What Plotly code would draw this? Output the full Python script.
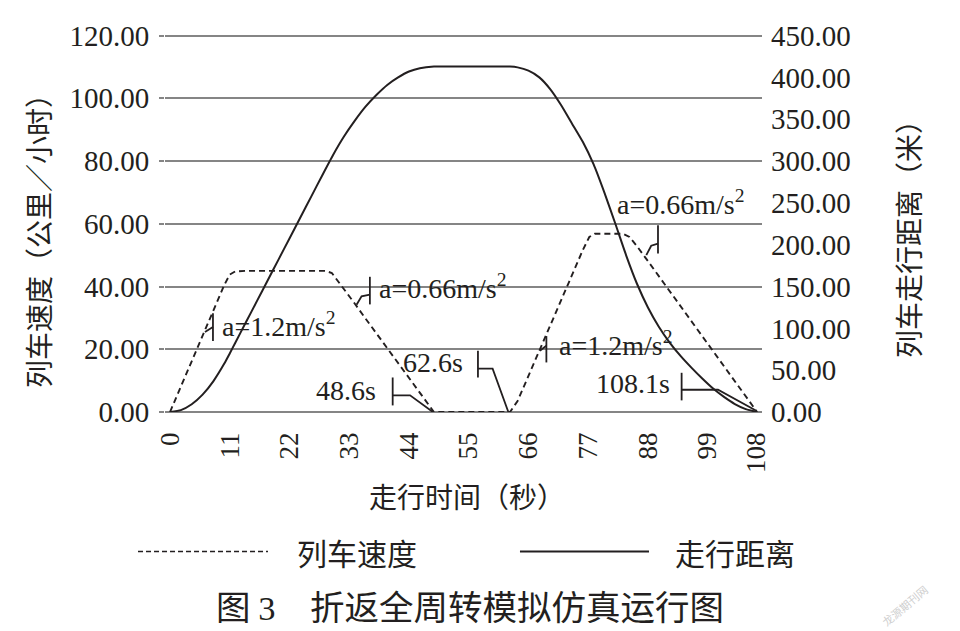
import plotly.graph_objects as go

# ---------------- data ----------------
speed_time = [0, 2, 4, 6, 8, 10, 11, 12, 14, 18, 22, 26, 28.6, 29.8, 32, 34, 36, 38, 40, 42, 44, 46, 48.6,
              52, 56, 60, 62.6, 64, 66, 68, 70, 72, 74, 76, 77.2, 78.2, 80, 83.4, 84.6, 86, 88, 90, 92, 94,
              96, 98, 100, 102, 104, 106, 108.1]
speed_kmh = [0, 8.1, 16.2, 24.3, 32.4, 40.5, 43.8, 44.8, 45, 45, 45, 45, 45, 44.3, 39.3, 34.6, 29.8, 25.1,
             20.3, 15.6, 10.8, 6.1, 0,
             0, 0, 0, 0, 3.5, 11.6, 19.6, 27.6, 35.6, 43.6, 51.6, 55.8, 56.8, 56.8, 56.8, 55.8, 52.8, 48.1,
             43.3, 38.5, 33.8, 29.0, 24.3, 19.5, 14.8, 10.0, 5.2, 0]

dist_time = [0, 2, 4, 6, 8, 10, 11, 12, 14, 16, 18, 20, 22, 24, 26, 28, 30, 32, 34, 36, 38, 40, 42, 44, 46,
             48.6, 52, 56, 60, 62.6, 64, 66, 68, 70, 72, 74, 76, 78, 80, 82, 84, 86, 88, 90, 92, 94, 96, 98,
             100, 102, 104, 106, 108.1]
dist_m = [0, 2.3, 9.3, 20.8, 37, 57.9, 70, 82.5, 107.5, 132.5, 157.5, 182.5, 207.5, 232.5, 257.5, 282.5,
          307, 329, 348, 365, 379, 391, 400, 407, 411, 413, 413, 413, 413, 413, 412, 408, 400, 386, 367, 345,
          323, 296, 262, 225, 187, 153, 125, 102, 83, 67, 53, 40, 28, 18, 9.5, 3.5, 0]

x_tick_vals = [0, 11, 22, 33, 44, 55, 66, 77, 88, 99, 108]
x_tick_text = ["0", "11", "22", "33", "44", "55", "66", "77", "88", "99", "108"]

label_texts = ["a=1.2m/s<sup>2</sup>", "a=0.66m/s<sup>2</sup>", "48.6s", "62.6s",
               "a=1.2m/s<sup>2</sup>", "a=0.66m/s<sup>2</sup>", "108.1s"]

legend_names = ["列车速度", "走行距离"]
x_title = "走行时间（秒）"
y_title = "列车速度（公里／小时）"
y2_title = "列车走行距离（米）"
caption = "图 <span style='font-family:Liberation Serif'>3</span>　折返全周转模拟仿真运行图"
watermark = "龙源期刊网"

# ---------------- styling ----------------
INK = "#231f20"
GRID = "#858585"
SERIF = "Liberation Serif, Times New Roman, serif"
CJK = "Noto Sans CJK SC, sans-serif"

fig = go.Figure()
fig.add_trace(go.Scatter(x=speed_time, y=speed_kmh, mode="lines", name=legend_names[0],
                         line=dict(color=INK, width=1.9, dash="6px,4px"), yaxis="y", showlegend=False))
fig.add_trace(go.Scatter(x=dist_time, y=dist_m, mode="lines", name=legend_names[1],
                         line=dict(color=INK, width=2, shape="spline", smoothing=0.5),
                         yaxis="y2", showlegend=False))

# label annotations (positions in data units: seconds / km/h)
label_pos = [(9.2, 28.0, "left"), (38.1, 40.0, "left"), (38.3, 6.9, "right"), (54.3, 15.7, "right"),
             (71.2, 21.7, "left"), (81.9, 66.9, "left"), (92.4, 9.1, "right")]
annotations = []
for txt, (ax, ay, anc) in zip(label_texts, label_pos):
    annotations.append(dict(x=ax, y=ay, xref="x", yref="y", text=txt, showarrow=False,
                            xanchor=anc, yanchor="middle", font=dict(family=SERIF, size=28, color=INK)))

# leader lines and brackets for the labels
leaders = [
    [(7.91, 22.6), (7.91, 31.5)], [(6.44, 25.5), (7.91, 27.1)],
    [(36.8, 34.3), (36.8, 43.1)], [(34.35, 34.2), (35.27, 36.85), (36.8, 37.4)],
    [(41.0, 2.1), (41.0, 11.0)], [(41.0, 5.3), (44.2, 5.3), (48.4, 0.0)],
    [(56.7, 11.0), (56.7, 19.5)], [(56.7, 13.8), (59.4, 13.8), (62.3, 0.0)],
    [(69.3, 15.8), (69.3, 24.2)], [(68.1, 19.5), (69.3, 21.1)],
    [(89.85, 50.5), (89.85, 59.5)], [(87.7, 50.0), (88.6, 53.0), (89.85, 53.7)],
    [(94.2, 3.7), (94.2, 12.5)], [(94.2, 7.1), (100.9, 7.1), (107.95, 0.4)],
]
shapes = []
for pts in leaders:
    path = "M " + " L ".join(f"{px},{py}" for px, py in pts)
    shapes.append(dict(type="path", path=path, xref="x", yref="y",
                       line=dict(color=INK, width=1.8)))

# manual legend
LEG_Y = -0.3691
shapes.append(dict(type="line", xref="paper", yref="paper", x0=-0.0452, x1=0.1725, y0=LEG_Y, y1=LEG_Y,
                   line=dict(color=INK, width=1.5, dash="5px,3px")))
shapes.append(dict(type="line", xref="paper", yref="paper", x0=0.5946, x1=0.8107, y0=LEG_Y, y1=LEG_Y,
                   line=dict(color=INK, width=2)))
annotations.append(dict(x=0.2178, y=LEG_Y, xref="paper", yref="paper", text=legend_names[0],
                        showarrow=False, xanchor="left", yanchor="middle", font=dict(family=CJK, size=30, color=INK)))
annotations.append(dict(x=0.8509, y=LEG_Y, xref="paper", yref="paper", text=legend_names[1],
                        showarrow=False, xanchor="left", yanchor="middle", font=dict(family=CJK, size=30, color=INK)))

# axis titles, caption, watermark
annotations.append(dict(x=0.5059, y=-0.2225, xref="paper", yref="paper", text=x_title, showarrow=False,
                        xanchor="center", yanchor="middle", font=dict(family=CJK, size=28, color=INK)))
annotations.append(dict(x=-0.2127, y=0.4712, xref="paper", yref="paper", text=y_title, showarrow=False,
                        textangle=-90, xanchor="center", yanchor="middle", font=dict(family=CJK, size=28, color=INK)))
annotations.append(dict(x=1.2446, y=0.4764, xref="paper", yref="paper", text=y2_title, showarrow=False,
                        textangle=-90, xanchor="center", yanchor="middle", font=dict(family=CJK, size=28, color=INK)))
annotations.append(dict(x=0.5109, y=-0.5105, xref="paper", yref="paper", text=caption, showarrow=False,
                        xanchor="center", yanchor="middle", font=dict(family=CJK, size=34.5, color=INK)))
annotations.append(dict(x=1.2395, y=-0.5105, xref="paper", yref="paper", text=watermark, showarrow=False,
                        textangle=-40, xanchor="center", yanchor="middle", font=dict(family=CJK, size=11, color="#cfcfcf")))

# the page body adds an 8px offset, so the figure is laid out 8px smaller
fig.update_layout(
    width=952, height=623,
    margin=dict(l=157, r=198, t=22, b=219),
    paper_bgcolor="white", plot_bgcolor="white",
    showlegend=False,
    xaxis=dict(range=[-0.92, 109.0], tickvals=x_tick_vals, ticktext=x_tick_text, tickangle=-90,
               showgrid=False, zeroline=False, showline=False, ticks="",
               ticklabelstandoff=14, tickfont=dict(family=SERIF, size=27, color=INK)),
    yaxis=dict(range=[0, 120.5], tickvals=[0, 20, 40, 60, 80, 100, 120], tickformat=".2f",
               showgrid=True, gridcolor=GRID, gridwidth=1.8,
               zeroline=True, zerolinecolor=GRID, zerolinewidth=1.8, showline=False,
               ticks="outside", ticklen=5, tickcolor=GRID, tickwidth=1.5, ticklabelstandoff=4,
               tickfont=dict(family=SERIF, size=29, color=INK)),
    yaxis2=dict(range=[0, 451.875], tickvals=[0, 50, 100, 150, 200, 250, 300, 350, 400, 450],
                tickformat=".2f", overlaying="y", side="right",
                showgrid=False, zeroline=False, showline=False, ticks="", ticklabelstandoff=8,
                tickfont=dict(family=SERIF, size=29, color=INK)),
    shapes=shapes,
    annotations=annotations,
)

fig.write_html("out.html")
